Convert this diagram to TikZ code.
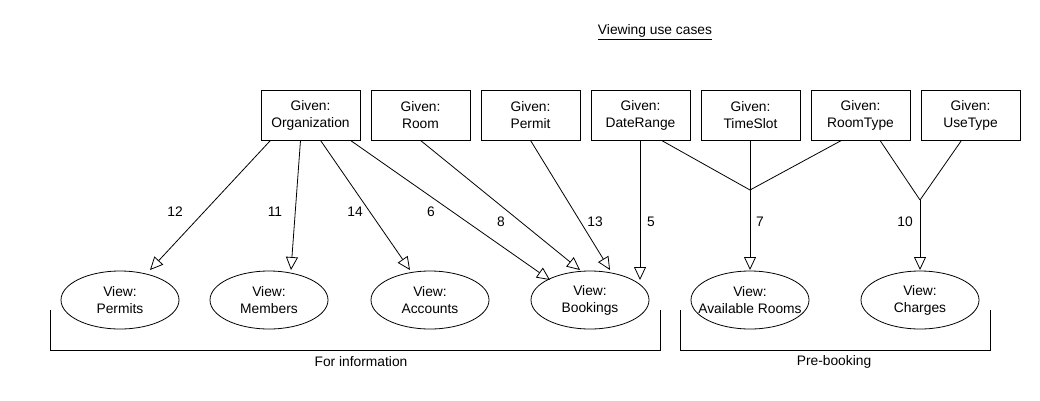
\documentclass[tikz,border=0pt]{standalone}
\usepackage{fontspec}
\setmainfont{Liberation Sans}
\usetikzlibrary{arrows.meta,shapes.geometric,calc}
\begin{document}
\begin{tikzpicture}[x=1pt,y=-1pt,
  every node/.style={font=\fontsize{13.8}{17}\selectfont},
  givenbox/.style={draw,line width=0.8pt,minimum width=99pt,minimum height=50pt,inner sep=0pt,align=center},
  viewcase/.style={draw,line width=0.8pt,ellipse,minimum width=118pt,minimum height=58pt,inner sep=0pt,align=center},
  gen/.style={line width=0.8pt,-{Triangle[open,length=13pt,width=12pt]}},
  plainline/.style={line width=0.8pt},
  lbl/.style={inner sep=0pt},
  bracket/.style={line width=0.8pt}]
\useasboundingbox (0,0) rectangle (1040,400);
\fill[white] (0,0) rectangle (1040,400);

\node[lbl] (title) at (655,32) {\underline{Viewing use cases}};

\node[givenbox] (org) at (310.5,115) {Given:\\Organization};
\node[givenbox] (room) at (420.5,115) {Given:\\Room};
\node[givenbox] (permit) at (530.5,115) {Given:\\Permit};
\node[givenbox] (daterange) at (640.5,115) {Given:\\DateRange};
\node[givenbox] (timeslot) at (750.5,115) {Given:\\TimeSlot};
\node[givenbox] (roomtype) at (860.5,115) {Given:\\RoomType};
\node[givenbox] (usetype) at (970.5,115) {Given:\\UseType};

\node[viewcase] (permits) at (120,300) {View:\\Permits};
\node[viewcase] (members) at (269,300) {View:\\Members};
\node[viewcase] (accounts) at (430,300) {View:\\Accounts};
\node[viewcase] (bookings) at (590,300) {View:\\Bookings};
\node[viewcase] (avail) at (750,300) {\makebox[0pt]{View:}\\\makebox[0pt]{Available Rooms}};
\node[viewcase] (charges) at (920,300) {View:\\Charges};

\coordinate (j1) at (750,190);
\coordinate (j2) at (920,200);

\draw[gen] ([xshift=-40pt]org.south) -- ([shift={(30,-30)}]permits.center);
\draw[gen] ([xshift=-10pt]org.south) -- ([shift={(22,-30)}]members.center);
\draw[gen] ([xshift=10pt]org.south) -- ([shift={(-20,-30)}]accounts.center);
\draw[gen] ([xshift=40pt]org.south) -- ([shift={(-40,-20)}]bookings.center);
\draw[gen] (room.south) -- ([shift={(-10,-30)}]bookings.center);
\draw[gen] (permit.south) -- ([shift={(20,-30)}]bookings.center);
\draw[gen] ([xshift=-0.5pt]daterange.south) -- ([shift={(50,-20)}]bookings.center);

\draw[plainline] ([xshift=21pt]daterange.south) -- (j1);
\draw[plainline] ([xshift=-0.5pt]timeslot.south) -- (j1);
\draw[plainline] ([xshift=-19pt]roomtype.south) -- (j1);
\draw[gen] (j1) -- ([shift={(0,-30)}]avail.center);

\draw[plainline] ([xshift=19.5pt]roomtype.south) -- (j2);
\draw[plainline] ([xshift=-9pt]usetype.south) -- (j2);
\draw[gen] (j2) -- ([shift={(0,-30)}]charges.center);

\node[lbl] (l12) at (175,212) {12};
\node[lbl] (l11) at (275,212) {11};
\node[lbl] (l14) at (355,212) {14};
\node[lbl] (l6) at (431,212) {6};
\node[lbl] (l8) at (501,222) {8};
\node[lbl] (l13) at (595,222) {13};
\node[lbl] (l5) at (651,222) {5};
\node[lbl] (l7) at (760,222) {7};
\node[lbl] (l10) at (905,222) {10};

\draw[bracket] (50,310) -- (50,350) -- (660,350) -- (660,310);
\draw[bracket] (680,310) -- (680,350) -- (990,350) -- (990,310);
\node[lbl] (finfo) at (361,362) {For information};
\node[lbl] (prebook) at (834,362) {Pre-booking};
\end{tikzpicture}
\end{document}
